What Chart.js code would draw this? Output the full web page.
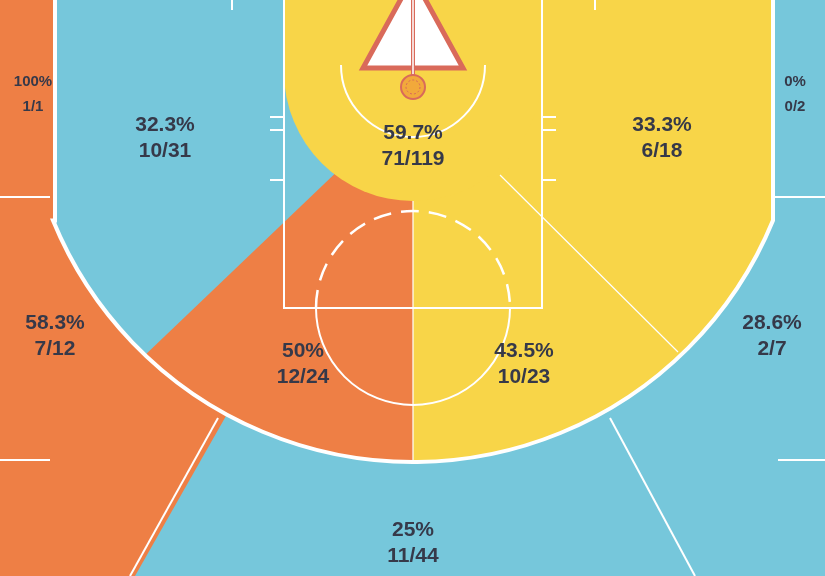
<!DOCTYPE html>
<html><head><meta charset="utf-8">
<script src="https://cdn.jsdelivr.net/npm/chart.js@4/dist/chart.umd.min.js"></script>
<style>html,body{margin:0;padding:0;background:#fff}#wrap{width:825px;height:576px}</style>
</head><body><div id="wrap"><canvas id="c"></canvas></div>
<script>
// Data
const zones = ["LC3","LWmid","Paint","RWmid","RC3","LW3","Lmid","Rmid","RW3","Top3"];
const pctLabels = ["100%","32.3%","59.7%","33.3%","0%","58.3%","50%","43.5%","28.6%","25%"];
const madeAtt = ["1/1","10/31","71/119","6/18","0/2","7/12","12/24","10/23","2/7","11/44"];
// Layout (label anchor positions in court units, font size)
const labelPos = [[33,82,15],[165,125,21],[413,133,21],[662,125,21],[795,82,15],[55,323,21],[303,351,21],[524,351,21],[772,323,21],[413,530,21]];

const ORANGE="#EE7F45", BLUE="#76C7DB", YELLOW="#F8D548";

const courtPlugin = {
  id:'court',
  beforeDatasetsDraw(chart){
    const ctx=chart.ctx, xs=chart.scales.x, ys=chart.scales.y;
    const X=v=>xs.getPixelForValue(v), Y=v=>ys.getPixelForValue(v);
    const S=(X(100)-X(0))/100;
    const poly=(pts,fill)=>{ctx.beginPath();pts.forEach((p,i)=>i?ctx.lineTo(X(p[0]),Y(p[1])):ctx.moveTo(X(p[0]),Y(p[1])));ctx.closePath();ctx.fillStyle=fill;ctx.fill();};
    const line=(pts,w,col,dash)=>{ctx.beginPath();pts.forEach((p,i)=>i?ctx.lineTo(X(p[0]),Y(p[1])):ctx.moveTo(X(p[0]),Y(p[1])));ctx.lineWidth=w;ctx.strokeStyle=col||'#fff';ctx.setLineDash(dash||[]);ctx.stroke();ctx.setLineDash([]);};
    const arc=(cx,cy,r,a0,a1,w,col,dash)=>{ctx.beginPath();ctx.arc(X(cx),Y(cy),r*S,a0,a1);ctx.lineWidth=w;ctx.strokeStyle=col||'#fff';ctx.setLineDash(dash||[]);ctx.stroke();ctx.setLineDash([]);};
    const cx=413, acy=73, R=389, bx=413, by=87;
    ctx.save();
    poly([[0,0],[825,0],[825,576],[0,576]],BLUE);
    poly([[bx,by],[135,576],[0,576],[0,0],[bx,0]],ORANGE);
    const aj=Math.asin((773-cx)/R);
    const a0=Math.PI/2-aj, a1=Math.PI/2+aj;
    ctx.save();
    ctx.beginPath();
    ctx.moveTo(X(773),Y(0));
    ctx.lineTo(X(773),Y(acy+R*Math.cos(aj)));
    ctx.arc(X(cx),Y(acy),R*S,a0,a1);
    ctx.lineTo(X(53),Y(0));
    ctx.closePath();
    ctx.clip();
    poly([[0,0],[825,0],[825,576],[0,576]],BLUE);
    poly([[413,99],[-216,700],[413,700]],ORANGE);
    poly([[bx,-10],[900,-10],[900,700],[bx,700]],YELLOW);
    ctx.restore();
    // inner zone
    ctx.beginPath();
    ctx.moveTo(X(284),Y(0));ctx.lineTo(X(284),Y(72));
    ctx.arc(X(cx),Y(72),129*S,Math.PI,0,true);
    ctx.lineTo(X(542),Y(0));ctx.closePath();ctx.fillStyle=YELLOW;ctx.fill();
    // lines
    ctx.lineCap='butt';
    line([[0,197],[50,197]],2);line([[775,197],[825,197]],2);
    line([[0,460],[50,460]],2);line([[778,460],[825,460]],2);
    line([[218,418],[130,576]],2);line([[610,418],[695,576]],2);
    line([[500,175],[678,352]],1.2);
    line([[413,201],[413,462]],1.2);
    // 3pt line
    ctx.beginPath();
    ctx.moveTo(X(55),Y(0));ctx.lineTo(X(55),Y(acy+R*Math.cos(aj)));
    ctx.arc(X(cx),Y(acy),R*S,a1,a0,true);
    ctx.lineTo(X(773),Y(0));
    ctx.lineWidth=4;ctx.strokeStyle='#fff';ctx.stroke();
    // paint
    line([[284,0],[284,308],[542,308],[542,0]],2);
    [117,130,180].forEach(y=>{line([[270,y],[284,y]],2);line([[542,y],[556,y]],2);});
    line([[232,0],[232,10]],2);line([[595,0],[595,10]],2);
    // FT circle
    arc(413,308,97,0,Math.PI,2);
    arc(413,308,97,Math.PI,2*Math.PI,2.5,'#fff',[18,10]);
    // restricted arc
    arc(413,65,72,0,Math.PI,2);
    // backboard triangle
    ctx.beginPath();ctx.moveTo(X(363),Y(68));ctx.lineTo(X(463),Y(68));ctx.lineTo(X(413),Y(-23));ctx.closePath();
    ctx.fillStyle='#fff';ctx.fill();ctx.lineWidth=5;ctx.strokeStyle='#D96A5A';ctx.stroke();
    ctx.beginPath();ctx.moveTo(X(370),Y(64));ctx.lineTo(X(456),Y(64));ctx.lineTo(X(413),Y(-15));ctx.closePath();
    ctx.lineWidth=1.5;ctx.strokeStyle='#fff';ctx.stroke();
    line([[413,-5],[413,76]],4,'#D96A5A');line([[413,-5],[413,76]],1.5,'#fff');
    // hoop
    ctx.beginPath();ctx.arc(X(413),Y(87),12*S,0,2*Math.PI);ctx.fillStyle='#F2A93B';ctx.fill();ctx.lineWidth=2;ctx.strokeStyle='#D96A5A';ctx.stroke();
    ctx.beginPath();ctx.arc(X(413),Y(87),7*S,0,2*Math.PI);ctx.lineWidth=1;ctx.strokeStyle='#D96A5A';ctx.setLineDash([2,2]);ctx.stroke();ctx.setLineDash([]);
    // labels
    ctx.fillStyle='#363949';ctx.textAlign='center';ctx.textBaseline='middle';
    zones.forEach((z,i)=>{
      const [lx,ly,fs]=labelPos[i];
      ctx.font='bold '+fs+'px "Liberation Sans", Arial, sans-serif';
      const gap=fs>16?26:25;
      ctx.fillText(pctLabels[i],X(lx),Y(ly));
      ctx.fillText(madeAtt[i],X(lx),Y(ly+gap));
    });
    ctx.restore();
  }
};

new Chart(document.getElementById('c'),{
  type:'scatter',
  data:{datasets:[{label:'zones',data:[],pointRadius:0}]},
  options:{
    responsive:true,maintainAspectRatio:false,animation:false,
    layout:{padding:0},
    plugins:{legend:{display:false},tooltip:{enabled:false}},
    scales:{
      x:{type:'linear',min:0,max:825,display:false},
      y:{type:'linear',min:0,max:576,reverse:true,display:false}
    }
  },
  plugins:[courtPlugin]
});
</script></body></html>
